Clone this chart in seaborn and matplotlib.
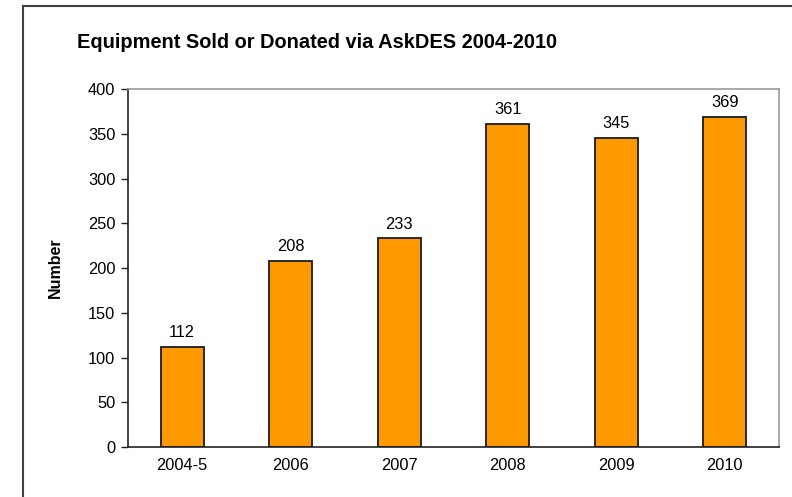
import pandas as pd
import matplotlib
matplotlib.use("Agg")
import matplotlib.pyplot as plt
import seaborn as sns
from matplotlib.patches import Rectangle

periods = ['2004-5', '2006', '2007', '2008', '2009', '2010']
items = [112, 208, 233, 361, 345, 369]

data_pd = pd.DataFrame({'period': periods, 'items': items})

sns.set_style("white")
plt.rcParams['font.family'] = ['Liberation Sans', 'DejaVu Sans']

fig = plt.figure(figsize=(7.92, 4.97), dpi=100)
ax = fig.add_axes([0.1616, 0.1006, 0.8220, 0.7203])

sns.barplot(data=data_pd, x='period', y='items', color='#FF9900', saturation=1,
            width=0.4, edgecolor='#1a1a1a', linewidth=1.3, ax=ax)

for i, v in enumerate(items):
    ax.annotate(f'{v}', xy=(i, v), xytext=(0, 5), textcoords='offset points',
                ha='center', va='bottom', fontsize=11.8, color='black')

ax.set_xlim(-0.5, len(periods) - 0.5)
ax.set_ylim(0, 400)
ax.set_yticks(range(0, 401, 50))
ax.set_xlabel('')
ax.set_ylabel('Number', fontsize=11.5, fontweight='bold', labelpad=18, color='black')

ax.set_xticks([i - 0.5 for i in range(len(periods) + 1)], minor=True)
ax.tick_params(axis='x', which='major', length=0, labelsize=11.8, pad=8, labelcolor='black')
ax.tick_params(axis='x', which='minor', length=5, width=1, color='#222222', direction='out')
ax.tick_params(axis='y', length=5, width=1, color='#222222', direction='out',
               labelsize=11.8, pad=4, left=True, labelcolor='black')

for side in ['left', 'bottom']:
    ax.spines[side].set_color('#222222')
    ax.spines[side].set_linewidth(1.2)
for side in ['top', 'right']:
    ax.spines[side].set_color('#999999')
    ax.spines[side].set_linewidth(1.2)

fig.text(77 / 792, 1 - 43 / 497, 'Equipment Sold or Donated via AskDES 2004-2010',
         fontsize=14.4, fontweight='bold', va='center', ha='left', color='black')

fig.patches.append(Rectangle((23 / 792, -0.1), 1.2, 1.1 - 6 / 497,
                             transform=fig.transFigure, fill=False,
                             edgecolor='#404040', linewidth=1.5))

fig.savefig('out.png', dpi=100)
